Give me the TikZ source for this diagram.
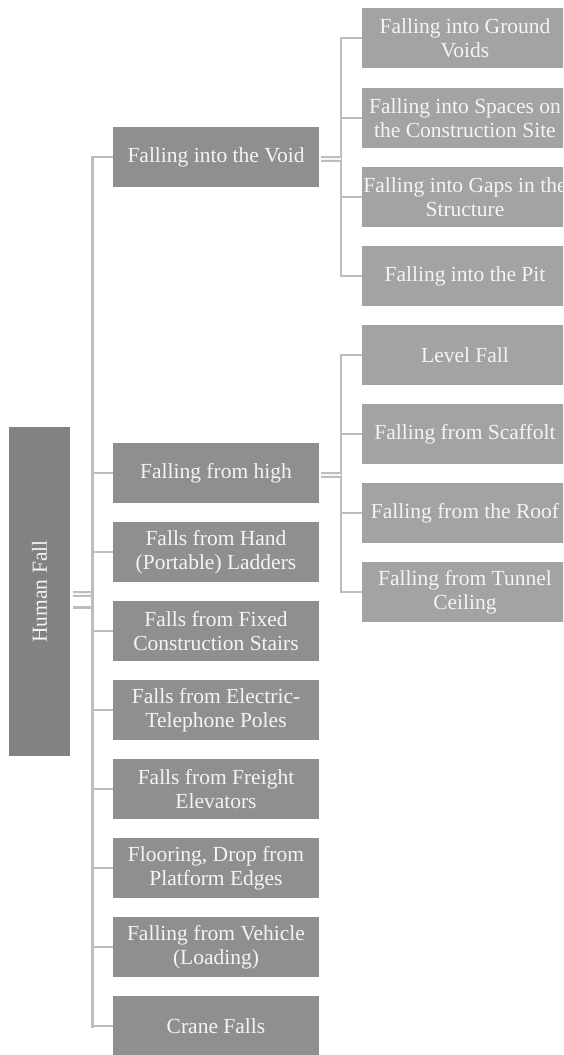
\documentclass[tikz,border=0pt]{standalone}
\usepackage{fontspec}
\setmainfont{Liberation Serif}
\definecolor{rootc}{HTML}{828282}
\definecolor{lonec}{HTML}{8F8F8F}
\definecolor{ltwoc}{HTML}{A3A3A3}
\definecolor{linec}{HTML}{BDBDBD}
\definecolor{txtc}{HTML}{F4F4F4}
\begin{document}
\begin{tikzpicture}[x=1pt,y=-1pt,
  box/.style={rectangle, inner sep=0pt, minimum width=206pt, minimum height=60pt,
    text=txtc, font=\fontsize{21.5}{24}\selectfont, align=center},
  lone/.style={box, fill=lonec},
  ltwo/.style={box, fill=ltwoc},
  conn/.style={draw=linec, line width=3pt},
  tick/.style={draw=linec, line width=2.2pt}]
\useasboundingbox (0,0) rectangle (563,1055);
\clip (0,0) rectangle (563,1055);
% root
\node[box, fill=rootc, minimum width=61pt, minimum height=329pt] (root) at (39.5,591.5) {};
\node[rotate=90, text=txtc, font=\fontsize{21.5}{24}\selectfont] (roottxt) at (root.center) {Human Fall};
% level 1
\node[lone] (a) at (216,157) {Falling into the Void};
\node[lone] (b) at (216,473) {Falling from high};
\node[lone] (c) at (216,552) {Falls from Hand\\(Portable) Ladders};
\node[lone] (d) at (216,631) {Falls from Fixed\\Construction Stairs};
\node[lone] (e) at (216,710) {Falls from Electric-\\Telephone Poles};
\node[lone] (f) at (216,789) {Falls from Freight\\Elevators};
\node[lone] (g) at (216,868) {Flooring, Drop from\\Platform Edges};
\node[lone] (h) at (216,947) {Falling from Vehicle\\(Loading)};
\node[lone] (i) at (216,1026) {Crane Falls};
% level 2
\node[ltwo] (a1) at (465,38) {Falling into Ground\\Voids};
\node[ltwo] (a2) at (465,118) {Falling into Spaces on\\the Construction Site};
\node[ltwo] (a3) at (465,197) {Falling into Gaps in the\\Structure};
\node[ltwo] (a4) at (465,276) {Falling into the Pit};
\node[ltwo] (b1) at (465,355) {Level Fall};
\node[ltwo] (b2) at (465,434) {Falling from Scaffolt};
\node[ltwo] (b3) at (465,513) {Falling from the Roof};
\node[ltwo] (b4) at (465,592) {Falling from Tunnel\\Ceiling};
% trunk coordinates
\coordinate (t0) at (92.5,157);
\coordinate (t1) at (92.5,1026);
\coordinate (u0) at (341,38);
\coordinate (u1) at (341,276);
\coordinate (v0) at (341,355);
\coordinate (v1) at (341,592);
% root connectors
\draw[conn, line width=6pt] ([xshift=3pt]root.east |- 0,594) -- (92.5,594);
\draw[draw=white!85!linec, line width=1.2pt] ([xshift=3pt]root.east |- 0,594) -- (92.5,594);
\draw[conn] ([xshift=3pt]root.east |- 0,607.5) -- (92.5,607.5);
% main trunk
\draw[conn, line cap=rect] (t0) -- (t1);
\foreach \n in {a,b,c,d,e,f,g,h,i} \draw[tick] (t0 |- \n.west) -- (\n.west);
% sub trunks
\draw[conn, line width=2.4pt, line cap=rect] (u0) -- (u1);
\foreach \n in {a1,a2,a3,a4} \draw[tick] (u0 |- \n.west) -- (\n.west);
\draw[conn, line width=2.4pt, line cap=rect] (v0) -- (v1);
\foreach \n in {b1,b2,b3,b4} \draw[tick] (v0 |- \n.west) -- (\n.west);
% level1 to level2 connectors
\draw[conn, line width=6pt] ([xshift=2pt]a.east |- 0,159) -- (u0 |- 0,159);
\draw[draw=white!85!linec, line width=1.2pt] ([xshift=2pt]a.east |- 0,159) -- (u0 |- 0,159);
\draw[conn, line width=6pt] ([xshift=2pt]b.east |- 0,475) -- (v0 |- 0,475);
\draw[draw=white!85!linec, line width=1.2pt] ([xshift=2pt]b.east |- 0,475) -- (v0 |- 0,475);
\end{tikzpicture}
\end{document}
